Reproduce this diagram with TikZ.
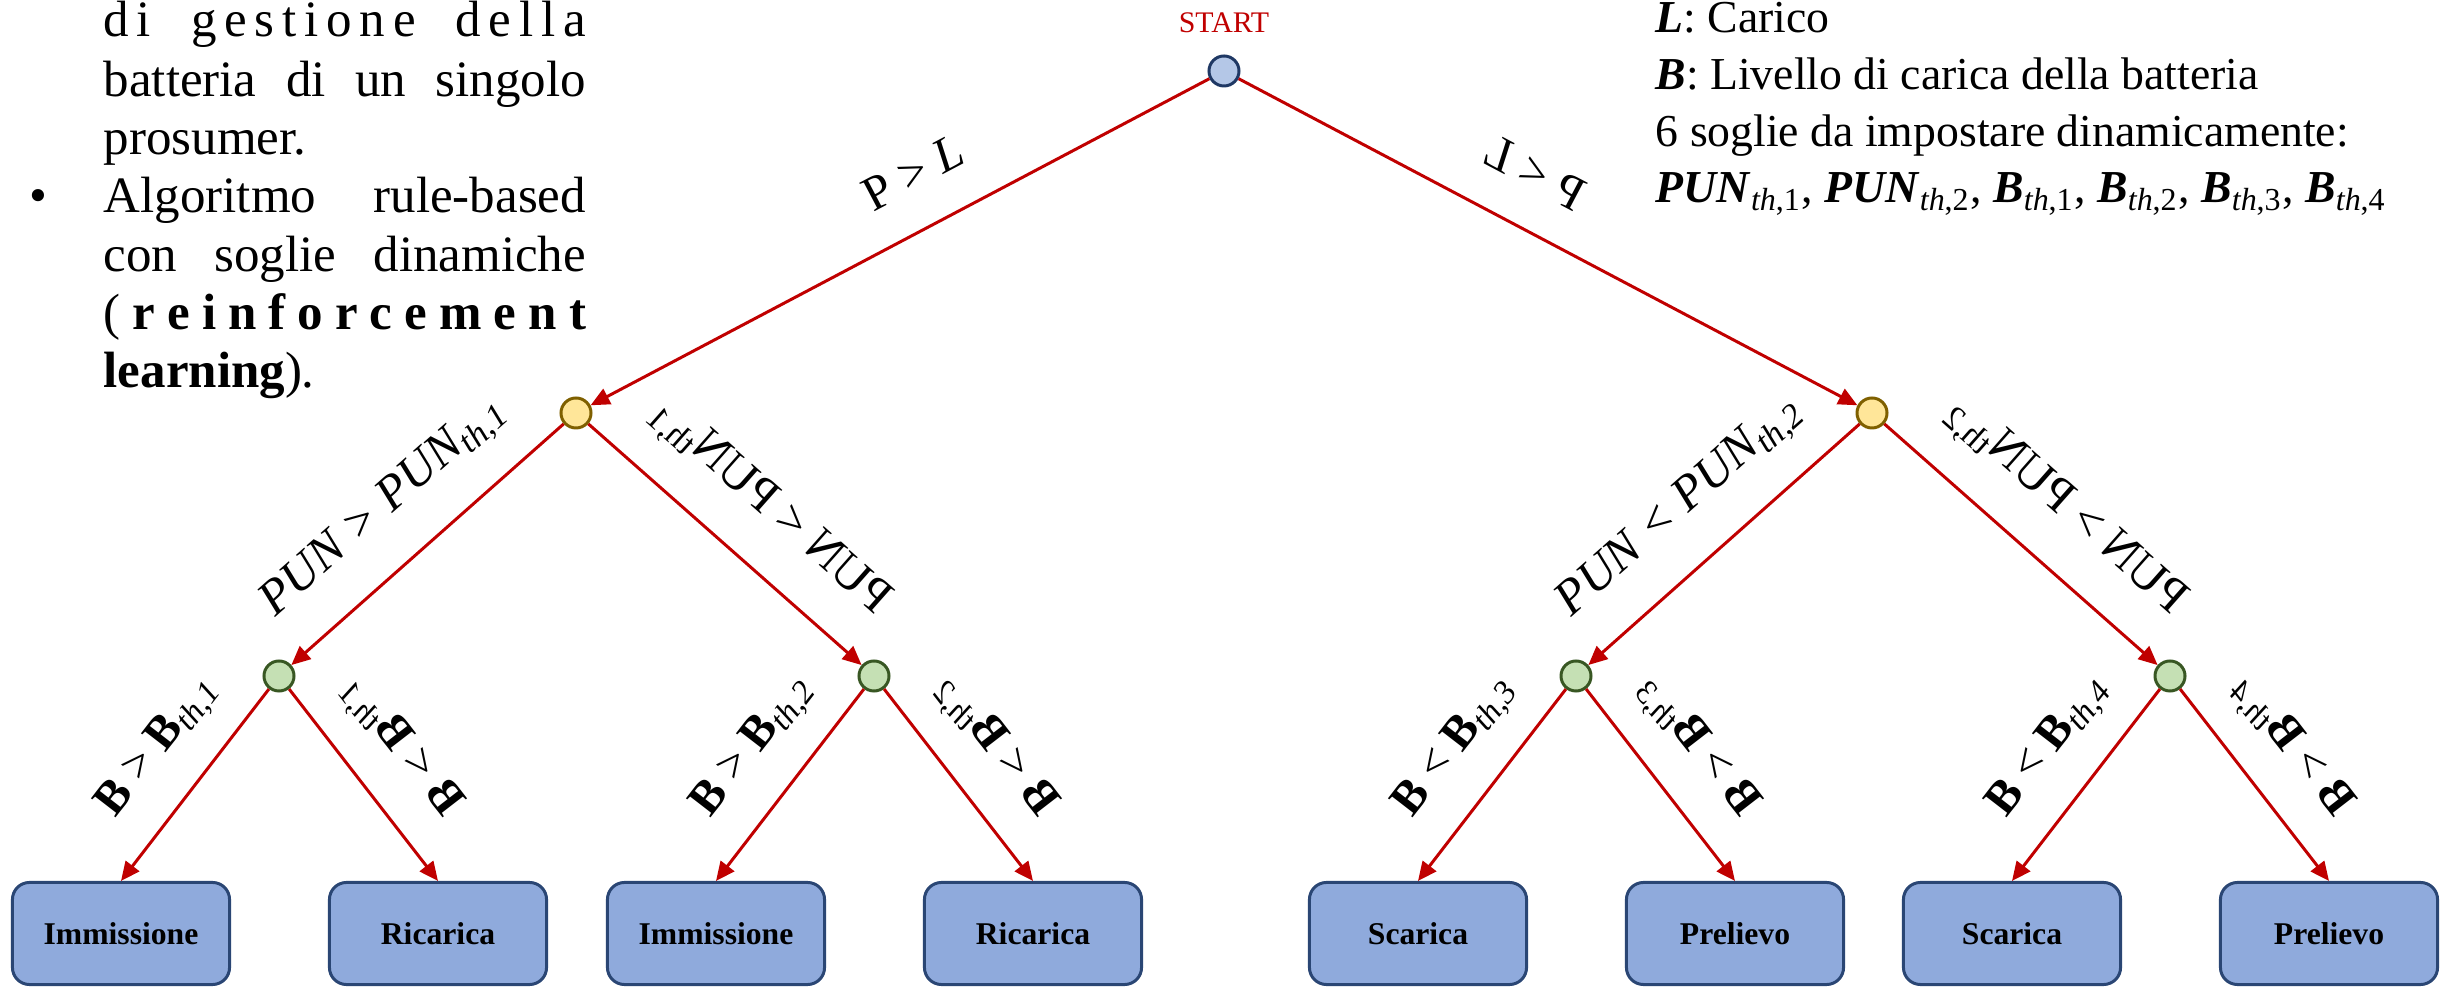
\documentclass[tikz,border=0pt]{standalone}
\usepackage{fontspec}
\setmainfont{Liberation Serif}
\usetikzlibrary{arrows.meta,calc}

\definecolor{linered}{HTML}{C00000}
\definecolor{startfill}{HTML}{B4C7E7}
\definecolor{startdraw}{HTML}{1F3864}
\definecolor{yfill}{HTML}{FFE699}
\definecolor{ydraw}{HTML}{7F6000}
\definecolor{gfill}{HTML}{C5E0B4}
\definecolor{gdraw}{HTML}{385723}
\definecolor{boxfill}{HTML}{8FAADC}
\definecolor{boxdraw}{HTML}{2A4674}

% spacing helpers for the justified paragraph lines
\newcommand\lsp{\hspace{0pt plus 1fil}}
\newcommand\wsp{\hspace{0.25em plus 3.5fil}}
\newcommand\jsp{\hspace{0.25em plus 1fil}}

\begin{document}
\begin{tikzpicture}[x=0.01cm, y=0.01cm,
  decision/.style={circle, minimum size=0.3cm, inner sep=0pt, line width=0.85pt},
  rootdot/.style={decision, fill=startfill, draw=startdraw},
  pundot/.style={decision, fill=yfill, draw=ydraw},
  batdot/.style={decision, fill=gfill, draw=gdraw},
  action/.style={rectangle, rounded corners=0.17cm, minimum width=2.17cm,
    minimum height=1.02cm, fill=boxfill, draw=boxdraw, line width=0.85pt,
    inner sep=0pt, font=\fontsize{9}{10}\selectfont\bfseries},
  branch/.style={draw=linered, line width=0.85pt, -{Triangle[length=5.4pt,width=4.8pt]}},
  cond/.style={inner sep=0pt, font=\fontsize{14}{16}\selectfont},
  batcond/.style={inner sep=0pt, font=\fontsize{13.5}{16}\selectfont},
  body/.style={anchor=base west, inner sep=0pt, font=\fontsize{14.5}{16.5}\selectfont},
  legend/.style={anchor=base west, inner sep=0pt, font=\fontsize{13}{15}\selectfont},
]
\useasboundingbox (0,0) rectangle (2447,-989);

% ---- left paragraph ----
\node[body] (p1) at (103,-37) {\hbox to 4.82cm{d\lsp i\wsp g\lsp e\lsp s\lsp t\lsp i\lsp o\lsp n\lsp e\wsp d\lsp e\lsp l\lsp l\lsp a}};
\node[body] (p2) at (103,-97) {\hbox to 4.82cm{batteria\jsp di\jsp un\jsp singolo}};
\node[body] (p3) at (103,-155) {prosumer.};
\node[body, anchor=base] (dot) at (38,-213) {\textbullet};
\node[body] (p4) at (103,-213) {\hbox to 4.82cm{Algoritmo\jsp rule-based}};
\node[body] (p5) at (103,-272) {\hbox to 4.82cm{con\jsp soglie\jsp dinamiche}};
\node[body] (p6) at (103,-330) {\hbox to 4.82cm{(\lsp{\bfseries r\lsp e\lsp i\lsp n\lsp f\lsp o\lsp r\lsp c\lsp e\lsp m\lsp e\lsp n\lsp t}}};
\node[body] (p7) at (103,-388) {\textbf{learning}).};

% ---- legend ----
\node[legend] (l1) at (1655,-33) {\textbf{\textit{L}}: Carico};
\node[legend] (l2) at (1655,-90) {\textbf{\textit{B}}: Livello di carica della batteria};
\node[legend] (l3) at (1655,-147) {6 soglie da impostare dinamicamente:};
\node[legend] (l4) at (1655,-203) {\textbf{\textit{PUN}}\textsubscript{\textit{th},1}, \textbf{\textit{PUN}}\textsubscript{\textit{th},2}, \textbf{\textit{B}}\textsubscript{\textit{th},1}, \textbf{\textit{B}}\textsubscript{\textit{th},2}, \textbf{\textit{B}}\textsubscript{\textit{th},3}, \textbf{\textit{B}}\textsubscript{\textit{th},4}};

% ---- tree nodes ----
\node[anchor=base, inner sep=0pt, text=linered, font=\fontsize{8.5}{10}\selectfont] (st) at (1224,-33) {START};
\node[rootdot] (S) at (1224,-71) {};
\node[pundot] (Y1) at (576,-413) {};
\node[pundot] (Y2) at (1872,-413) {};
\node[batdot] (G1) at (279,-676) {};
\node[batdot] (G2) at (874,-676) {};
\node[batdot] (G3) at (1576,-676) {};
\node[batdot] (G4) at (2170,-676) {};
\node[action] (A1) at (121,-933.5) {Immissione};
\node[action] (A2) at (438,-933.5) {Ricarica};
\node[action] (A3) at (716,-933.5) {Immissione};
\node[action] (A4) at (1033,-933.5) {Ricarica};
\node[action] (A5) at (1418,-933.5) {Scarica};
\node[action] (A6) at (1735,-933.5) {Prelievo};
\node[action] (A7) at (2012,-933.5) {Scarica};
\node[action] (A8) at (2329,-933.5) {Prelievo};

% ---- connectors ----
\draw[branch] (S) -- (Y1);
\draw[branch] (S) -- (Y2);
\draw[branch] (Y1) -- (G1);
\draw[branch] (Y1) -- (G2);
\draw[branch] (Y2) -- (G3);
\draw[branch] (Y2) -- (G4);
\draw[branch] (G1) -- (A1.north);
\draw[branch] (G1) -- (A2.north);
\draw[branch] (G2) -- (A3.north);
\draw[branch] (G2) -- (A4.north);
\draw[branch] (G3) -- (A5.north);
\draw[branch] (G3) -- (A6.north);
\draw[branch] (G4) -- (A7.north);
\draw[branch] (G4) -- (A8.north);

% ---- branch conditions (right-hand ones are mirrored) ----
\node[cond, rotate=27.8] (c0l) at ($(S)!0.44!(Y1)!0.55cm!-90:(Y1)$) {P > \textit{L}};
\node[cond, rotate=-27.8, xscale=-1] (c0r) at ($(S)!0.44!(Y2)!0.55cm!90:(Y2)$) {P < \textit{L}};

\node[cond, rotate=41.5] (c1l) at ($(Y1)!0.52!(G1)!0.56cm!-90:(G1)$) {\textit{PUN > PUN\textsubscript{th,1}}};
\node[cond, rotate=-41.5, xscale=-1] (c1r) at ($(Y1)!0.52!(G2)!0.56cm!90:(G2)$) {PUN < PUN\textsubscript{th,1}};
\node[cond, rotate=41.5] (c2l) at ($(Y2)!0.52!(G3)!0.56cm!-90:(G3)$) {\textit{PUN < PUN\textsubscript{th,2}}};
\node[cond, rotate=-41.5, xscale=-1] (c2r) at ($(Y2)!0.52!(G4)!0.56cm!90:(G4)$) {PUN > PUN\textsubscript{th,2}};

\node[batcond, rotate=52.3] (b1l) at ($(G1)!0.5!(A1.north)!0.52cm!-90:(A1.north)$) {\textbf{B} > \textbf{B}\textsubscript{\textit{th,1}}};
\node[batcond, rotate=-52.3, xscale=-1] (b1r) at ($(G1)!0.5!(A2.north)!0.52cm!90:(A2.north)$) {\textbf{B} < \textbf{B}\textsubscript{\textit{th,1}}};
\node[batcond, rotate=52.3] (b2l) at ($(G2)!0.5!(A3.north)!0.52cm!-90:(A3.north)$) {\textbf{B} > \textbf{B}\textsubscript{\textit{th,2}}};
\node[batcond, rotate=-52.3, xscale=-1] (b2r) at ($(G2)!0.5!(A4.north)!0.52cm!90:(A4.north)$) {\textbf{B} < \textbf{B}\textsubscript{\textit{th,2}}};
\node[batcond, rotate=52.3] (b3l) at ($(G3)!0.5!(A5.north)!0.52cm!-90:(A5.north)$) {\textbf{B} < \textbf{B}\textsubscript{\textit{th,3}}};
\node[batcond, rotate=-52.3, xscale=-1] (b3r) at ($(G3)!0.5!(A6.north)!0.52cm!90:(A6.north)$) {\textbf{B} > \textbf{B}\textsubscript{\textit{th,3}}};
\node[batcond, rotate=52.3] (b4l) at ($(G4)!0.5!(A7.north)!0.52cm!-90:(A7.north)$) {\textbf{B} < \textbf{B}\textsubscript{\textit{th,4}}};
\node[batcond, rotate=-52.3, xscale=-1] (b4r) at ($(G4)!0.5!(A8.north)!0.52cm!90:(A8.north)$) {\textbf{B} > \textbf{B}\textsubscript{\textit{th,4}}};
\end{tikzpicture}
\end{document}
